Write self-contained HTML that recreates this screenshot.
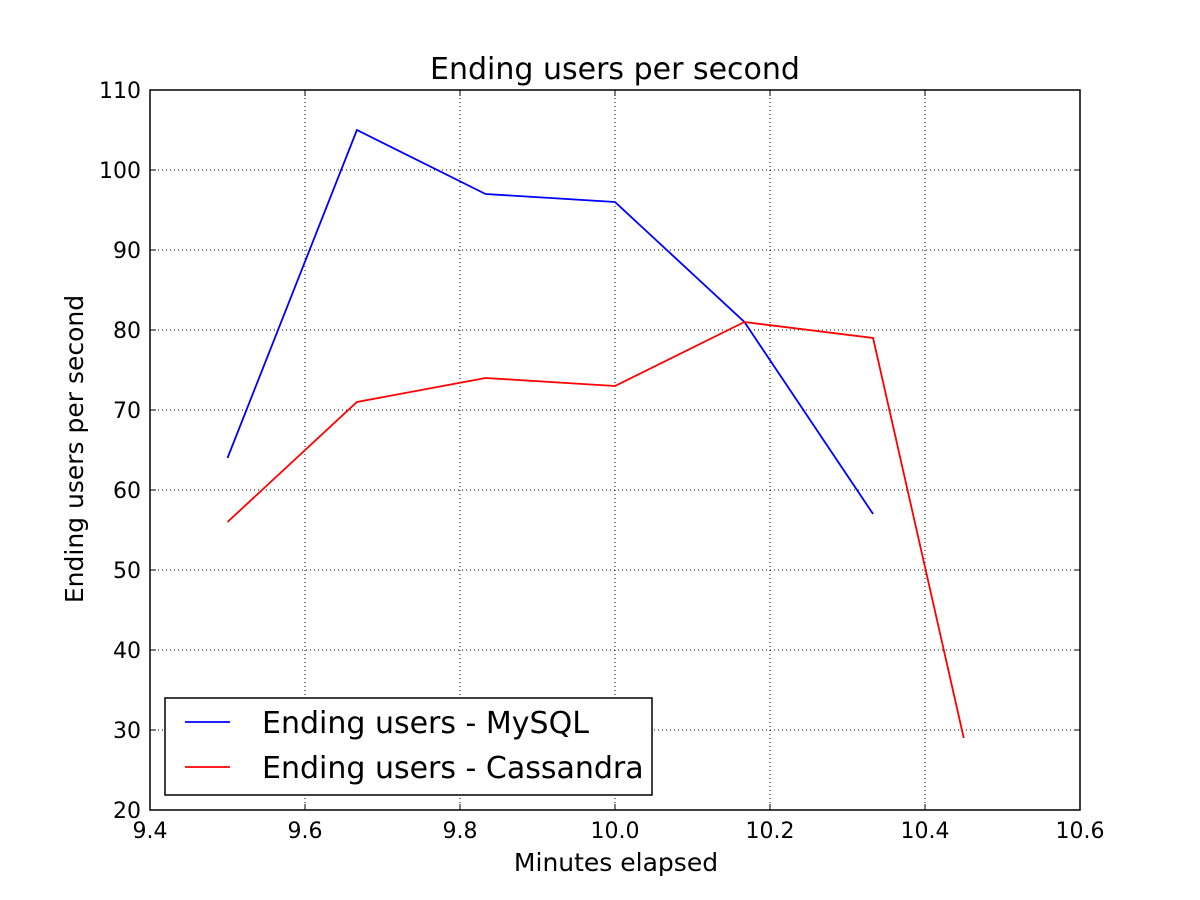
<!DOCTYPE html>
<html><head><meta charset="utf-8"><style>
body{margin:0;background:#fff;}
svg{display:block;font-family:"DejaVu Sans","Liberation Sans",sans-serif;}
</style></head><body>
<svg id="chart" width="1200" height="900"></svg>
<script>
const xTicks=[9.4,9.6,9.8,10.0,10.2,10.4,10.6];
const xTickLabels=["9.4","9.6","9.8","10.0","10.2","10.4","10.6"];
const yTicks=[20,30,40,50,60,70,80,90,100,110];
const mysqlX=[9.5,9.667,9.833,10.0,10.167,10.333];
const mysqlY=[64,105,97,96,81,57];
const cassX=[9.5,9.667,9.833,10.0,10.167,10.333,10.45];
const cassY=[56,71,74,73,81,79,29];

const L=150,R=1080,T=90,B=810;
const sx=v=>L+(v-9.4)/1.2*(R-L);
const sy=v=>B-(v-20)/90*(B-T);
const svg=document.getElementById('chart');
const NS='http://www.w3.org/2000/svg';
function mk(tag,attrs,parent){const e=document.createElementNS(NS,tag);for(const k in attrs)e.setAttribute(k,attrs[k]);(parent||svg).appendChild(e);return e;}

xTicks.forEach((v,i)=>{
  if(i>0&&i<xTicks.length-1){const g=mk('line',{x1:sx(v),x2:sx(v),y1:T,y2:B,stroke:'#000','stroke-dasharray':'1,3','stroke-width':1});
  
  }
  mk('line',{x1:sx(v),x2:sx(v),y1:B,y2:B-6,stroke:'#000'});
  mk('line',{x1:sx(v),x2:sx(v),y1:T,y2:T+6,stroke:'#000'});
  const t=mk('text',{x:sx(v),y:B+28,'text-anchor':'middle','font-size':22});
  t.textContent=xTickLabels[i];
  
  
});
yTicks.forEach((v,i)=>{
  if(i>0&&i<yTicks.length-1){const g=mk('line',{x1:L,x2:R,y1:sy(v),y2:sy(v),stroke:'#000','stroke-dasharray':'1,3','stroke-width':1});
  
  }
  mk('line',{x1:L,x2:L+6,y1:sy(v),y2:sy(v),stroke:'#000'});
  mk('line',{x1:R,x2:R-6,y1:sy(v),y2:sy(v),stroke:'#000'});
  const t=mk('text',{x:L-9,y:sy(v)+8,'text-anchor':'end','font-size':22});
  t.textContent=String(v);
  
  
});

function series(xs,ys,color,name){
  const p=mk('polyline',{points:xs.map((x,i)=>sx(x)+','+sy(ys[i])).join(' '),fill:'none',stroke:color,'stroke-width':1.8});
  
  
}
series(mysqlX,mysqlY,'#0000ff','mysql-line');
series(cassX,cassY,'#ff0000','cassandra-line');

const frame=mk('rect',{x:L,y:T,width:R-L,height:B-T,fill:'none',stroke:'#000','stroke-width':1.5});



const title=mk('text',{x:615,y:79,'text-anchor':'middle','font-size':30});
title.textContent='Ending users per second';


const xl=mk('text',{x:616,y:871,'text-anchor':'middle','font-size':25});
xl.textContent='Minutes elapsed';


const yl=mk('text',{x:0,y:0,'text-anchor':'middle','font-size':25,transform:'translate(83,449) rotate(-90)'});
yl.textContent='Ending users per second';



const lg=mk('g',{});


mk('rect',{x:165,y:698,width:487,height:97,fill:'#fff',stroke:'#000','stroke-width':1.5},lg);
[['#0000ff','Ending users - MySQL',722,'legend-entry-mysql'],['#ff0000','Ending users - Cassandra',767,'legend-entry-cassandra']].forEach(d=>{
  const g=mk('g',{},lg);
  
  
  mk('line',{x1:185,x2:230,y1:d[2],y2:d[2],stroke:d[0],'stroke-width':1.8},g);
  const t=mk('text',{x:262,y:d[2]+11,'font-size':30},g);
  t.textContent=d[1];
});
</script>
</body></html>
